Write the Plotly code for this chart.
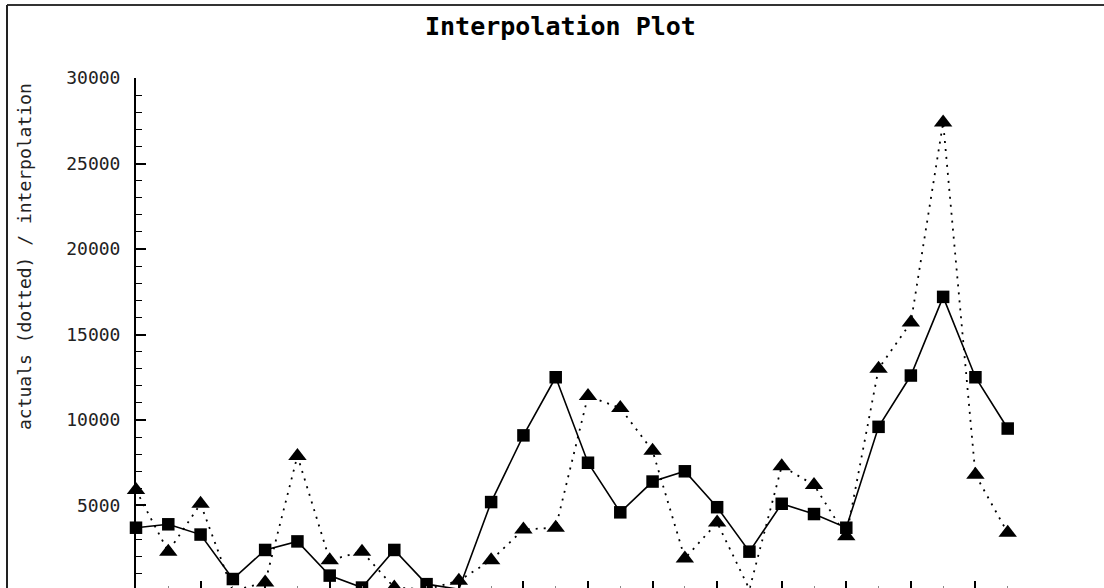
import plotly.graph_objects as go

# Period index along the x axis
periods = list(range(28))

# Interpolated series (solid line, square markers)
interpolation = [3700, 3900, 3300, 700, 2400, 2900, 900, 200, 2400, 400,
                 100, 5200, 9100, 12500, 7500, 4600, 6400, 7000, 4900, 2300,
                 5100, 4500, 3700, 9600, 12600, 17200, 12500, 9500]

# Actual values (dotted line, triangle markers)
actuals = [5900, 2300, 5100, 0, 500, 7900, 1800, 2300, 200, 100,
           600, 1800, 3600, 3700, 11400, 10700, 8200, 1900, 4000, 100,
           7300, 6200, 3200, 13000, 15700, 27400, 6800, 3400]

y_ticks = [5000, 10000, 15000, 20000, 25000, 30000]
y_labels = ["5000", "10000", "15000", "20000", "25000", "30000"]

W, H = 1104, 588
L, R, T, B = 136, 64, 78, 0
pw, ph = W - L - R, H - T - B


def px_x(p):
    return (p - L) / pw


def px_y(p):
    return (H - B - p) / ph


mono = "DejaVu Sans Mono"

fig = go.Figure()

fig.add_trace(go.Scatter(
    x=periods, y=actuals, mode="lines+markers", name="actuals",
    line=dict(color="#000000", width=1.8, dash="2px,6px"),
    marker=dict(symbol="triangle-up", size=16, color="#000000"),
    cliponaxis=False,
))

fig.add_trace(go.Scatter(
    x=periods, y=interpolation, mode="lines+markers", name="interpolation",
    line=dict(color="#000000", width=1.6),
    marker=dict(symbol="square", size=12.5, color="#000000"),
    cliponaxis=False,
))

fig.update_layout(
    width=W, height=H,
    margin=dict(l=L, r=R, t=T, b=B, autoexpand=False),
    paper_bgcolor="white", plot_bgcolor="white",
    showlegend=False,
    font=dict(family=mono, color="#111111"),
    xaxis=dict(
        range=[0, 28], showgrid=False, zeroline=False, showline=False,
        showticklabels=False, ticks="inside", tickmode="linear", tick0=0,
        dtick=2, ticklen=7, tickwidth=1.5, tickcolor="#000000",
        minor=dict(ticks="inside", dtick=1, ticklen=2, tickwidth=1,
                   tickcolor="#888888"),
        automargin=False,
    ),
    yaxis=dict(
        range=[175, 30000], showgrid=False, zeroline=False,
        showline=True, linecolor="#000000", linewidth=2,
        ticks="inside", tickvals=y_ticks, ticktext=y_labels,
        ticklen=10, tickwidth=1.5, tickcolor="#000000",
        minor=dict(ticks="inside", dtick=1000, ticklen=6, tickwidth=1.2,
                   tickcolor="#000000"),
        tickfont=dict(family=mono, size=18, color="#222222"),
        ticklabelstandoff=10,
        automargin=False,
    ),
    annotations=[
        dict(text="Interpolation Plot", xref="paper", yref="paper",
             x=px_x(560), y=px_y(27), xanchor="center", yanchor="middle",
             showarrow=False,
             font=dict(family=mono, size=25, color="#000000", weight="bold")),
        dict(text="actuals (dotted) / interpolation", xref="paper", yref="paper",
             x=px_x(24), y=px_y(257), xanchor="center", yanchor="middle",
             textangle=-90, showarrow=False,
             font=dict(family=mono, size=18, color="#222222")),
    ],
    shapes=[
        dict(type="line", xref="paper", yref="paper",
             x0=px_x(7), y0=px_y(5), x1=px_x(1120), y1=px_y(5),
             line=dict(color="#333333", width=2)),
        dict(type="line", xref="paper", yref="paper",
             x0=px_x(7), y0=px_y(5), x1=px_x(7), y1=px_y(600),
             line=dict(color="#222222", width=2)),
    ],
)

fig.write_html("out.html")
